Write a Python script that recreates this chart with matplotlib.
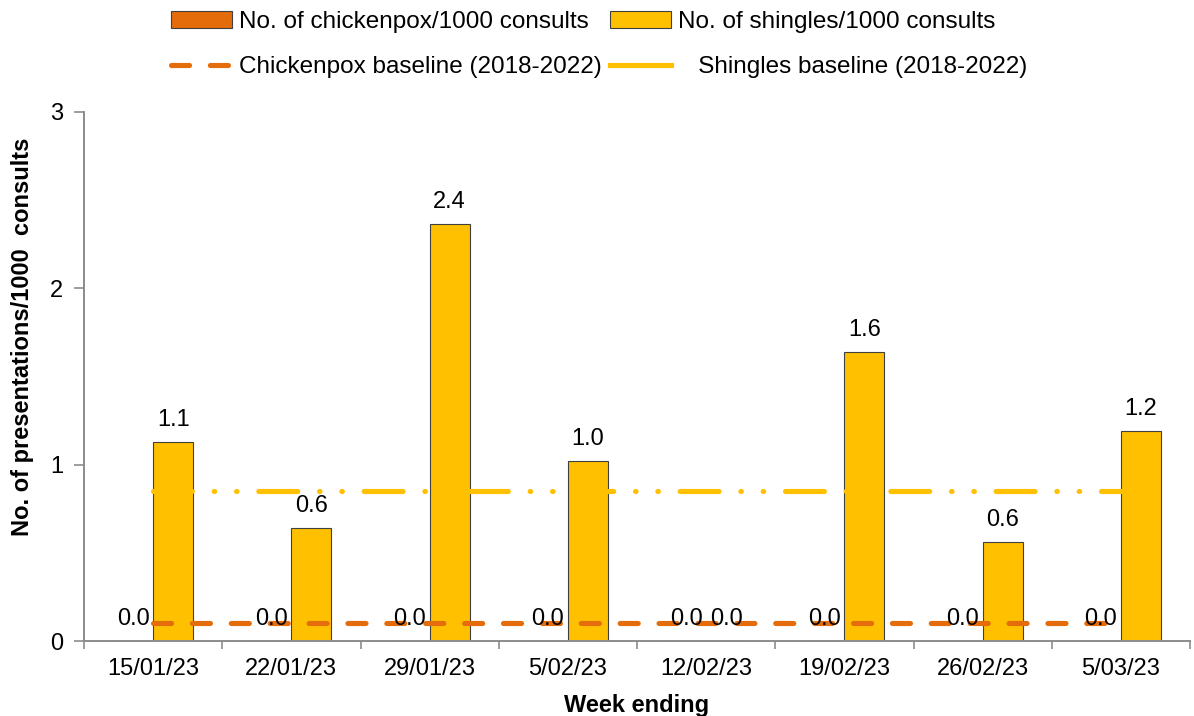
import numpy as np
import matplotlib.pyplot as plt
from matplotlib.patches import Patch
from matplotlib.lines import Line2D

plt.rcParams["font.family"] = ["Liberation Sans", "DejaVu Sans"]

weeks = ["15/01/23", "22/01/23", "29/01/23", "5/02/23",
         "12/02/23", "19/02/23", "26/02/23", "5/03/23"]
chickenpox = [0.0, 0.0, 0.0, 0.0, 0.0, 0.0, 0.0, 0.0]
shingles = [1.13, 0.64, 2.365, 1.02, 0.0, 1.64, 0.56, 1.19]
chickenpox_baseline = [0.10] * 8
shingles_baseline = [0.85] * 8

ORANGE = "#E46C0A"
YELLOW = "#FFC000"
GREY = "#8C8C8C"


def main():
    fig = plt.figure(figsize=(11.94, 7.16), dpi=100)
    ax = fig.add_axes([84 / 1194, 75 / 716, 1106 / 1194, 529 / 716])

    x = np.arange(len(weeks))
    w = 0.29
    ax.bar(x - w / 2, chickenpox, w, color=ORANGE, edgecolor="#404040",
           linewidth=0.8, zorder=2)
    ax.bar(x + w / 2, shingles, w, color=YELLOW, edgecolor="#404040",
           linewidth=0.8, zorder=2)

    lw = 3.7
    sh_dash = (28 / lw, 15.7 / lw, 0.1, 15.7 / lw, 0.1, 15.7 / lw)
    cp_dash = (13 / lw, 15 / lw)
    ax.plot(x, shingles_baseline, color=YELLOW, lw=lw, dashes=sh_dash,
            dash_capstyle="round", zorder=3)
    ax.plot(x, chickenpox_baseline, color=ORANGE, lw=lw, dashes=cp_dash,
            dash_capstyle="round", zorder=3)

    for xi, v in zip(x, chickenpox):
        ax.annotate(f"{v:.1f}", (xi - w / 2, v), xytext=(0, 16),
                    textcoords="offset points", ha="center", va="center",
                    fontsize=17, zorder=4)
    for xi, v in zip(x, shingles):
        ax.annotate(f"{v:.1f}", (xi + w / 2, v), xytext=(0, 16),
                    textcoords="offset points", ha="center", va="center",
                    fontsize=17, zorder=4)

    ax.set_xlim(-0.5, len(weeks) - 0.5)
    ax.set_ylim(0, 3)
    ax.set_yticks([0, 1, 2, 3])
    ax.set_xticks(x)
    ax.set_xticklabels(weeks, fontsize=17)
    ax.set_xticks(np.arange(len(weeks) + 1) - 0.5, minor=True)
    ax.tick_params(axis="x", which="major", length=0, pad=12)
    ax.tick_params(axis="x", which="minor", length=6, color=GREY, width=1.2)
    ax.tick_params(axis="y", labelsize=17, length=7, color=GREY, width=1.2, pad=8)

    for side in ("top", "right"):
        ax.spines[side].set_visible(False)
    for side in ("left", "bottom"):
        ax.spines[side].set_color(GREY)
        ax.spines[side].set_linewidth(1.4)

    ax.set_xlabel("Week ending", fontsize=17, fontweight="bold")
    ax.set_ylabel("No. of presentations/1000  consults", fontsize=17,
                  fontweight="bold")
    ax.xaxis.set_label_coords(0.5, -0.1)
    ax.yaxis.set_label_coords(-0.045, 0.575)

    handles = [
        Patch(facecolor=ORANGE, edgecolor="#404040", linewidth=0.8),
        Line2D([], [], color=ORANGE, lw=lw, dashes=cp_dash,
               dash_capstyle="round"),
        Patch(facecolor=YELLOW, edgecolor="#404040", linewidth=0.8),
        Line2D([], [], color=YELLOW, lw=lw, dash_capstyle="round"),
    ]
    labels = ["No. of chickenpox/1000 consults",
              "Chickenpox baseline (2018-2022)",
              "No. of shingles/1000 consults",
              "   Shingles baseline (2018-2022)"]
    fig.legend(handles, labels, loc="upper center", bbox_to_anchor=(0.502, 1.015),
               ncol=2, frameon=False, fontsize=17.5, handlelength=2.5,
               handletextpad=0.3, columnspacing=0.35, labelspacing=0.95)

    fig.savefig("out.png", dpi=100)


if __name__ == "__main__":
    main()
